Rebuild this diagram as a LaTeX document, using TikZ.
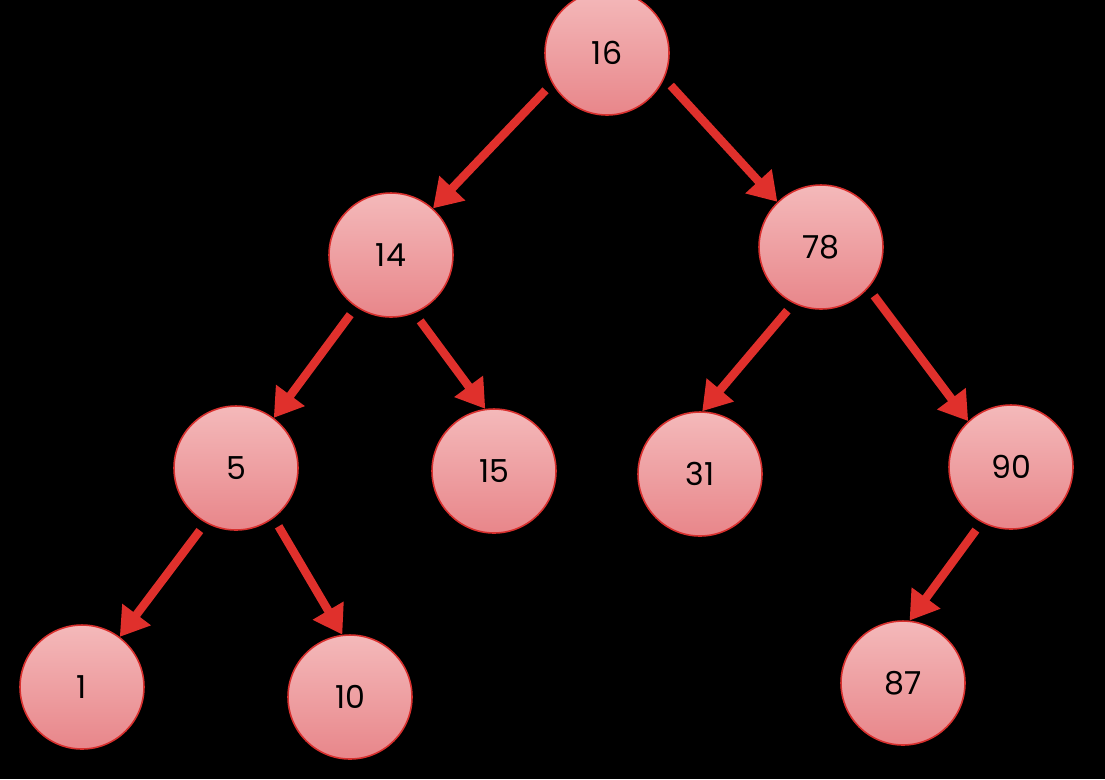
\documentclass[tikz,border=0pt]{standalone}
\usepackage{fontspec}
\setmainfont{Poppins}
\usepackage{tikz}
\usetikzlibrary{arrows.meta}
\definecolor{keytop}{HTML}{F4B9BA}
\definecolor{keybottom}{HTML}{E8868A}
\definecolor{keyrim}{HTML}{D8302E}
\definecolor{arrowred}{HTML}{E0302C}
\tikzset{
  keynode/.style={circle, draw=keyrim, line width=0.9pt, top color=keytop,
    bottom color=keybottom, minimum size=2.48cm, inner sep=0pt,
    text=black, font=\fontsize{18}{21}\selectfont},
  treearrow/.style={draw=arrowred, line width=4.8pt, shorten <=0.19cm,
    -{Triangle[length=0.56cm, width=0.68cm]}}
}

\begin{document}
\begin{tikzpicture}[x=0.02cm, y=-0.02cm]
      \fill[black] (0,0) rectangle (1105,779);
      \useasboundingbox (0,0) rectangle (1105,779);
      \foreach \k/\x/\y in {16/607/53, 14/391/255, 78/821/247, 5/236/468,
        15/494/471, 31/700/474, 90/1011/467, 1/82/687, 10/350/697, 87/903/683}
      {
        \node[keynode] (n\k) at (\x,\y) {\k};
      }
      \foreach \a/\sa/\b/\eb in {16/209/14/48, 16/336/78/134, 14/236/5/53,
        14/292/15/98, 78/244/31/88, 78/319/90/133, 90/242/87/84,
        5/241/1/53, 5/307/10/97}
      {
        \draw[treearrow] (n\a.\sa) -- (n\b.\eb);
      }
\end{tikzpicture}
\end{document}
